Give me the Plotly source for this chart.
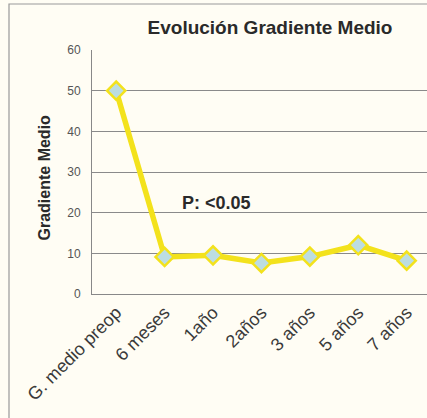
import plotly.graph_objects as go

categories = ["G. medio preop", "6 meses", "1año", "2años", "3 años", "5 años", "7 años"]
values = [50.0, 9.1, 9.5, 7.6, 9.2, 12.0, 8.2]
y_ticks = [0, 10, 20, 30, 40, 50, 60]

W, H = 427, 418
L, R, T, B = 92, 0, 50, 124
pw, ph = W - L - R, H - T - B

def px(x):
    return (x - L) / pw

def py(y):
    return (H - B - y) / ph

fig = go.Figure()
fig.add_trace(go.Scatter(
    x=list(range(len(categories))), y=values, mode="lines+markers",
    line=dict(color="#f3e21c", width=5.5),
    marker=dict(symbol="diamond", size=14, color="#bcdde2",
                line=dict(color="#f3e21c", width=2.5)),
    showlegend=False, cliponaxis=False,
))

fig.update_layout(
    width=W, height=H,
    margin=dict(l=L, r=R, t=T, b=B, autoexpand=False),
    paper_bgcolor="#fffdf4", plot_bgcolor="#fffdf4",
    font=dict(family="Liberation Sans, Arial, sans-serif", color="#333"),
    title=dict(text="<b>Evolución Gradiente Medio</b>", x=270 / W, xanchor="center",
               y=1 - 27 / H, yanchor="middle", font=dict(size=19, color="#2a2a2a")),
    xaxis=dict(range=[-0.5, 6.42], tickmode="array", tickvals=list(range(len(categories))),
               ticktext=categories, tickangle=-45, showgrid=False, showline=True,
               linecolor="#888", linewidth=1, ticks="", zeroline=False, automargin=False,
               tickfont=dict(size=18, color="#3a3a3a")),
    yaxis=dict(range=[0, 60], tickvals=y_ticks, showgrid=True, gridcolor="#8a8a8a",
               gridwidth=1, showline=True, linecolor="#888", linewidth=1, ticks="",
               zeroline=False, mirror=False, automargin=False, ticklabelstandoff=8,
               tickfont=dict(size=12, color="#555")),
    shapes=[
        dict(type="rect", xref="paper", yref="paper", x0=px(9), x1=px(440),
             y0=py(430), y1=py(4), line=dict(color="#999", width=1.2),
             fillcolor="rgba(0,0,0,0)", layer="below"),
    ],
    annotations=[
        dict(text="<b>P: <0.05</b>", x=px(216), y=py(203), xref="paper", yref="paper",
             showarrow=False, font=dict(size=18, color="#2a2a2a")),
        dict(text="<b>Gradiente Medio</b>", x=px(33), y=py(178), xref="paper", yref="paper",
             textangle=-90, showarrow=False, font=dict(size=16, color="#2a2a2a")),
    ],
)

fig.write_html("out.html", config={"displayModeBar": False},
               post_script="document.body.style.margin='0';document.body.style.overflow='hidden';")
